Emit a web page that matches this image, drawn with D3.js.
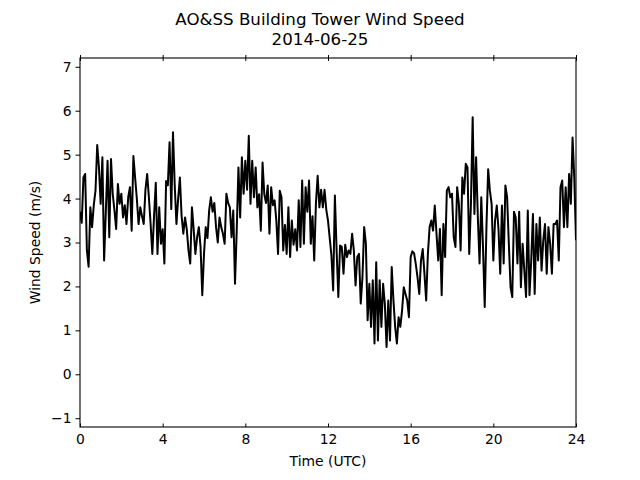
<!DOCTYPE html>
<html><head><meta charset="utf-8">
<script src="https://cdn.jsdelivr.net/npm/d3@7"></script>
<style>
body{margin:0;background:#fff}
svg{display:block}
text{font-family:"DejaVu Sans",sans-serif;fill:#000}
</style>
</head><body>
<svg id="c" width="640" height="480"></svg>
<script>
const titleLines = ["AO&SS Building Tower Wind Speed", "2014-06-25"];
const xLabel = "Time (UTC)";
const yLabel = "Wind Speed (m/s)";
const xTicks = [0, 4, 8, 12, 16, 20, 24];
const yTicks = [-1, 0, 1, 2, 3, 4, 5, 6, 7];
const xDomain = [0, 24];
const yDomain = [-1.2, 7.2];
const stepMinutes = 5;
// 5-minute wind speed (m/s), 00:00 -> 24:00 UTC
const windSpeed = [
  3.7, 3.45, 4.48, 4.56, 2.82, 2.45, 3.8, 3.35, 3.85, 4.18, 5.22, 4.71,
  3.88, 4.94, 2.59, 3.7, 4.86, 3.12, 4.9, 4.11, 3.73, 3.31, 4.33, 3.88,
  4.11, 3.57, 3.85, 3.42, 4.03, 4.26, 3.27, 4.97, 4.48, 4.0, 3.42, 3.8,
  3.6, 3.42, 4.2, 4.56, 4.03, 3.42, 2.74, 3.6, 4.36, 2.74, 3.8, 2.97,
  3.3, 2.52, 4.4, 4.3, 5.28, 3.76, 5.51, 4.3, 3.42, 4.0, 4.48, 3.6,
  3.2, 3.57, 3.3, 2.82, 2.52, 3.8, 3.3, 2.74, 3.12, 3.35, 2.9, 1.8,
  2.74, 3.35, 3.1, 3.73, 4.03, 3.7, 3.9, 3.35, 3.0, 3.57, 3.35, 3.2,
  2.97, 4.11, 3.9, 3.8, 3.12, 3.73, 2.06, 3.27, 4.71, 3.57, 4.94, 4.11,
  4.86, 4.2, 5.43, 3.88, 4.86, 4.03, 4.71, 3.8, 4.1, 3.27, 4.82, 4.1,
  3.9, 4.3, 3.2, 4.26, 3.85, 3.96, 3.5, 2.74, 4.18, 4.03, 2.82, 3.4,
  2.74, 3.8, 2.67, 3.5, 2.95, 3.3, 2.82, 3.96, 2.9, 4.41, 2.97, 4.26,
  3.7, 4.41, 2.97, 3.6, 2.59, 3.9, 4.52, 3.8, 4.2, 3.8, 4.2, 3.75,
  3.5, 3.1, 2.7, 1.91, 4.07, 2.82, 1.76, 2.93, 2.9, 2.29, 2.95, 2.67,
  2.82, 2.74, 3.2, 2.82, 2.02, 2.67, 2.74, 1.61, 2.21, 3.35, 2.97, 1.23,
  2.06, 1.08, 2.14, 0.70, 2.55, 0.77, 2.14, 1.08, 2.06, 1.6, 0.62, 1.68,
  0.77, 2.44, 1.68, 1.08, 0.70, 1.30, 1.08, 1.45, 1.98, 1.83, 1.68, 1.30,
  2.67, 2.8, 2.75, 2.5, 2.2, 1.83, 2.59, 2.85, 2.29, 1.68, 2.74, 3.35,
  3.5, 3.27, 3.84, 3.2, 2.59, 3.31, 1.8, 3.42, 2.67, 4.18, 4.26, 4.03,
  4.11, 3.12, 2.9, 4.26, 3.88, 2.82, 4.48, 4.11, 4.79, 4.71, 2.74, 3.88,
  5.85, 3.65, 4.94, 3.57, 2.52, 4.03, 2.9, 1.53, 3.35, 4.67, 4.18, 3.88,
  2.59, 3.5, 3.84, 3.3, 2.29, 3.84, 2.52, 4.3, 4.03, 2.97, 1.98, 1.76,
  3.7, 3.57, 2.52, 3.7, 1.98, 2.97, 2.36, 1.76, 3.73, 1.8, 2.59, 3.65,
  1.83, 3.42, 2.59, 3.57, 2.36, 3.05, 3.42, 2.29, 3.35, 2.97, 2.29, 3.42,
  3.42, 3.5, 2.59, 4.26, 4.41, 3.35, 4.26, 3.35, 4.56, 3.88, 5.39, 4.48,
  3.05
];

const W = 640, H = 480;
const m = {left: 80, right: 576, top: 58, bottom: 427};
const svg = d3.select("#c");
const x = d3.scaleLinear().domain(xDomain).range([m.left, m.right]);
const y = d3.scaleLinear().domain(yDomain).range([m.bottom, m.top]);
const fs = 13.9;

svg.append("defs").append("clipPath").attr("id", "clip")
  .append("rect").attr("x", m.left).attr("y", m.top)
  .attr("width", m.right - m.left).attr("height", m.bottom - m.top);

// line
const line = d3.line()
  .x((d, i) => x(i * stepMinutes / 60))
  .y(d => y(d));
svg.append("path").datum(windSpeed)
  .attr("clip-path", "url(#clip)")
  .attr("fill", "none").attr("stroke", "#000")
  .attr("stroke-width", 2).attr("stroke-linejoin", "round")
  .attr("d", line);

// left axis
const gy = svg.append("g").attr("transform", `translate(${m.left},0)`)
  .call(d3.axisLeft(y).tickValues(yTicks).tickSize(4.5).tickPadding(4).tickFormat(d3.format("d")));
gy.select(".domain").remove();
gy.selectAll("text").style("font-size", fs + "px").style("font-family", "DejaVu Sans");
gy.selectAll("line").attr("stroke-width", 1);

// bottom axis (ticks inward)
const gx = svg.append("g").attr("transform", `translate(0,${m.bottom})`)
  .call(d3.axisBottom(x).tickValues(xTicks).tickSizeInner(-3.5).tickSizeOuter(0).tickPadding(7).tickFormat(d3.format("d")));
gx.select(".domain").remove();
gx.selectAll("text").style("font-size", fs + "px").style("font-family", "DejaVu Sans");
gx.selectAll("line").attr("stroke-width", 1);

// top ticks (crossing spine)
const gt = svg.append("g").attr("transform", `translate(0,${m.top})`)
  .call(d3.axisTop(x).tickValues(xTicks).tickSizeInner(3).tickSizeOuter(0).tickFormat(""));
gt.select(".domain").remove();
gt.selectAll(".tick line").attr("y2", -3).attr("y1", 3).attr("stroke-width", 1);

// frame
svg.append("rect").attr("x", m.left).attr("y", m.top)
  .attr("width", m.right - m.left).attr("height", m.bottom - m.top)
  .attr("fill", "none").attr("stroke", "#000").attr("stroke-width", 1.1);

// titles
svg.append("text").attr("x", 320).attr("y", 24.5).attr("text-anchor", "middle")
  .style("font-size", "16.67px").text(titleLines[0]);
svg.append("text").attr("x", 320).attr("y", 44.5).attr("text-anchor", "middle")
  .style("font-size", "16.67px").text(titleLines[1]);

svg.append("text").attr("x", (m.left + m.right) / 2).attr("y", 466)
  .attr("text-anchor", "middle").style("font-size", fs + "px").text(xLabel);
svg.append("text").attr("transform", `translate(40,${(m.top + m.bottom) / 2}) rotate(-90)`)
  .attr("text-anchor", "middle").style("font-size", fs + "px").text(yLabel);
</script>
</body></html>
